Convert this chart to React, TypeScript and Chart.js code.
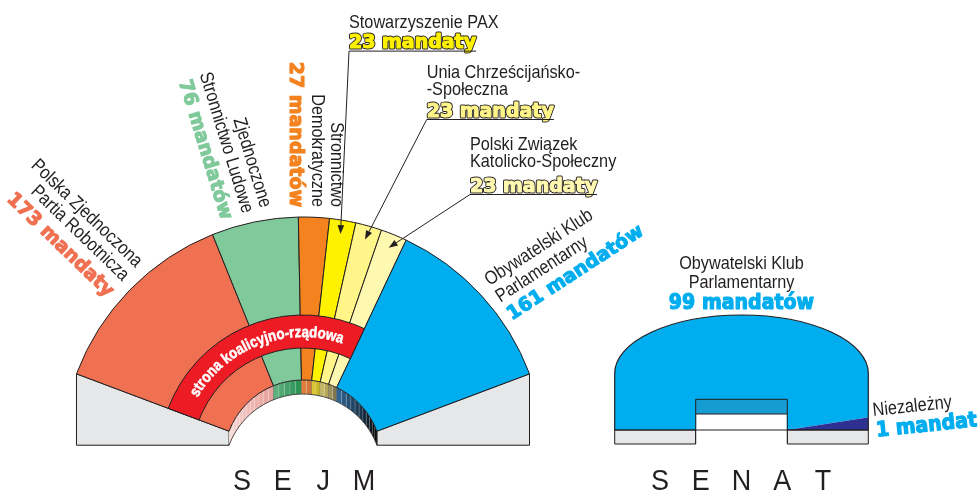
import React, { useEffect, useRef } from 'react';
import { Chart, registerables } from 'chart.js';

Chart.register(...registerables);

// ---------------- data ----------------
const sejmNames: string[][] = [
  ['Polska Zjednoczona', 'Partia Robotnicza'],
  ['Zjednoczone', 'Stronnictwo Ludowe'],
  ['Stronnictwo', 'Demokratyczne'],
  ['Stowarzyszenie PAX'],
  ['Unia Chrześcijańsko-', '-Społeczna'],
  ['Polski Związek', 'Katolicko-Społeczny'],
  ['Obywatelski Klub', 'Parlamentarny'],
];
const sejmSeats = [173, 76, 27, 23, 23, 23, 161];
const sejmSeatText = ['173 mandaty', '76 mandatów', '27 mandatów', '23 mandaty', '23 mandaty', '23 mandaty', '161 mandatów'];
const coalitionParties = 6; // the first six parties form the coalition side
const coalitionText = 'strona koalicyjno-rządowa';

const senatNames: string[][] = [['Obywatelski Klub', 'Parlamentarny'], ['Niezależny']];
const senatSeats = [99, 1];
const senatSeatText = ['99 mandatów', '1 mandat'];

const chamberTitles = ['SEJM', 'SENAT'];

// ---------------- styles ----------------
const W = 978;
const H = 491;
const INK = '#231F20';
const sejmColors = ['#F07052', '#80C99B', '#F4821F', '#FFF200', '#FFF589', '#FFF8B0', '#00AEEF'];
const sejmNumOutline = [false, false, false, true, true, true, false];
const wallLight = ['#F7DCD8', '#5FB07E', '#DE7F3E', '#D9C634', '#C6B862', '#9E915B', '#2F6391'];
const wallDark = ['#E9A29C', '#2C9455', '#D4763A', '#CBB72C', '#B3A656', '#80774F', '#000000'];
const senatColors = ['#00AEEF', '#2E3192'];
const GRAY = '#E6E7E8';
const RED = '#ED1C24';

const REG = '19px "Liberation Sans", Arial, Helvetica, sans-serif';
const REG_SX = 0.855;
const BOLD = 'bold 19px "DejaVu Sans", Verdana, sans-serif';
const BAND_FONT = 'bold 15.5px "Liberation Sans", Arial, sans-serif';
const TITLE_FONT = '30px "Liberation Sans", Arial, sans-serif';

// layout
const SEJM = { cx: 303, cy: 459, R: 242, r: 79, depth: 14, sideDeg: 20.6, bandIn: 111, bandOut: 144, textR: 122, arrowR: 228 };
const SEN = {
  left: 614.7, right: 868.3, shoulder: 373.3, top: 315, base: 430, bottom: 444,
  holeL: 695.7, holeR: 787.3, wallTop: 399.3, wallBot: 414, stretch: 2.5,
};
const TITLE_BASE = 490;
const TITLE_PITCH = 40.7;

const radialLabels: any = {
  0: { x: 135.5, y: 268, rot: 44, align: 'right', dys: [0, 19, 41] },
  1: { x: 260.5, y: 208.6, rot: 73, align: 'right', dys: [0, 19, 41] },
  2: { x: 331, y: 207, rot: 90, align: 'right', dys: [0, 19.2, 41] },
  6: { x: 489.5, y: 286, rot: -33, align: 'left', dys: [0, 20, 41] },
};
const calloutLabels: any = {
  3: { x: 349, lines: [28.3], num: 48.3 },
  4: { x: 426.7, lines: [78.3, 95], num: 116.7 },
  5: { x: 470, lines: [150, 166.7], num: 191.7 },
};

// ---------------- helpers ----------------
function hexToRgb(h: string) {
  const v = parseInt(h.slice(1), 16);
  return [(v >> 16) & 255, (v >> 8) & 255, v & 255];
}
function mix(a: string, b: string, t: number) {
  const A = hexToRgb(a), B = hexToRgb(b);
  const c = A.map((x, i) => Math.round(x + (B[i] - x) * t));
  return `rgb(${c[0]},${c[1]},${c[2]})`;
}

function doughnutOffset(rotDeg: number, circDeg: number, cutout: number) {
  const TAU = Math.PI * 2;
  const circ = (circDeg * Math.PI) / 180;
  if (circ >= TAU) return { x: 0, y: 0 };
  const start = ((rotDeg - 90) * Math.PI) / 180;
  const end = start + circ;
  const norm = (a: number) => ((a % TAU) + TAU) % TAU;
  const inside = (a: number) => norm(a - start) <= circ + 1e-9;
  const sx = Math.cos(start), sy = Math.sin(start), ex = Math.cos(end), ey = Math.sin(end);
  const mx = (ang: number, a: number, b: number) => (inside(ang) ? 1 : Math.max(a, a * cutout, b, b * cutout));
  const mn = (ang: number, a: number, b: number) => (inside(ang) ? -1 : Math.min(a, a * cutout, b, b * cutout));
  const maxX = mx(0, sx, ex), maxY = mx(Math.PI / 2, sy, ey);
  const minX = mn(Math.PI, sx, ex), minY = mn(1.5 * Math.PI, sy, ey);
  return { x: -(maxX + minX) / 2, y: -(maxY + minY) / 2 };
}

function areaPadding(ax: number, ay: number) {
  const p = { left: 0, right: 0, top: 0, bottom: 0 };
  if (2 * ax > W) p.left = 2 * ax - W; else p.right = W - 2 * ax;
  if (2 * ay > H) p.top = 2 * ay - H; else p.bottom = H - 2 * ay;
  return p;
}

function drawBlock(ctx: any, x: number, y: number, rotDeg: number, align: string, lines: any[]) {
  ctx.save();
  ctx.translate(x, y);
  ctx.rotate((rotDeg * Math.PI) / 180);
  ctx.textAlign = align;
  ctx.textBaseline = 'alphabetic';
  for (const ln of lines) {
    ctx.save();
    ctx.translate(ln.dx || 0, ln.dy);
    ctx.lineJoin = 'round';
    if (ln.bold) {
      ctx.font = BOLD;
      ctx.scale(1, ln.sy || 1);
      if (ln.outline) {
        ctx.lineWidth = 3;
        ctx.strokeStyle = INK;
        ctx.strokeText(ln.text, 0, 0);
      }
      ctx.lineWidth = 1.1;
      ctx.strokeStyle = ln.color;
      ctx.strokeText(ln.text, 0, 0);
    } else {
      ctx.font = REG;
      ctx.scale(REG_SX, 1);
    }
    ctx.fillStyle = ln.color;
    ctx.fillText(ln.text, 0, 0);
    ctx.restore();
  }
  ctx.restore();
}

function drawArcText(ctx: any, text: string, cx: number, cy: number, radius: number, centerAngle: number, sx: number) {
  ctx.save();
  ctx.font = BAND_FONT;
  ctx.fillStyle = '#FFFFFF';
  ctx.strokeStyle = '#FFFFFF';
  ctx.lineWidth = 0.5;
  ctx.textAlign = 'center';
  ctx.textBaseline = 'alphabetic';
  const chars = Array.from(text);
  const widths = chars.map((ch) => ctx.measureText(ch).width * sx);
  const total = widths.reduce((a, b) => a + b, 0);
  let ang = centerAngle - total / 2 / radius;
  chars.forEach((ch, i) => {
    const a = ang + widths[i] / 2 / radius;
    ctx.save();
    ctx.translate(cx + radius * Math.cos(a), cy + radius * Math.sin(a));
    ctx.rotate(a + Math.PI / 2);
    ctx.scale(sx, 1);
    ctx.strokeText(ch, 0, 0);
    ctx.fillText(ch, 0, 0);
    ctx.restore();
    ang += widths[i] / radius;
  });
  ctx.restore();
}

function drawArrow(ctx: any, x0: number, y0: number, x1: number, y1: number) {
  const a = Math.atan2(y1 - y0, x1 - x0);
  const L = 9, Wd = 3.3;
  const bx = x1 - L * Math.cos(a), by = y1 - L * Math.sin(a);
  ctx.save();
  ctx.strokeStyle = INK;
  ctx.fillStyle = INK;
  ctx.lineWidth = 1;
  ctx.beginPath();
  ctx.moveTo(x0, y0);
  ctx.lineTo(bx, by);
  ctx.stroke();
  ctx.beginPath();
  ctx.moveTo(x1, y1);
  ctx.lineTo(bx + Wd * Math.sin(a), by - Wd * Math.cos(a));
  ctx.lineTo(bx - Wd * Math.sin(a), by + Wd * Math.cos(a));
  ctx.closePath();
  ctx.fill();
  ctx.restore();
}

function drawTitle(ctx: any, word: string, centerX: number) {
  const letters = Array.from(word);
  ctx.save();
  ctx.font = TITLE_FONT;
  ctx.fillStyle = INK;
  ctx.textAlign = 'center';
  ctx.textBaseline = 'alphabetic';
  letters.forEach((ch, i) => {
    const x = centerX + (i - (letters.length - 1) / 2) * TITLE_PITCH;
    ctx.save();
    ctx.translate(x, TITLE_BASE);
    ctx.scale(0.9, 1);
    ctx.fillText(ch, 0, 0);
    ctx.restore();
  });
  ctx.restore();
}

// ---------------- Sejm plugin ----------------
const sejmDecor = {
  id: 'sejmDecor',
  beforeDatasetsDraw(chart: any) {
    const ctx = chart.ctx;
    const arcs = chart.getDatasetMeta(0).data;
    const first = arcs[0];
    const last = arcs[arcs.length - 1];
    const cx = first.x, cy = first.y, R = first.outerRadius, r = first.innerRadius;
    const d = SEJM.depth;

    // grey plinths on both ends
    [first.startAngle, last.endAngle].forEach((a: number) => {
      const ox = cx + R * Math.cos(a), oy = cy + R * Math.sin(a);
      const ix = cx + r * Math.cos(a), iy = cy + r * Math.sin(a);
      ctx.save();
      ctx.beginPath();
      ctx.moveTo(ox, oy);
      ctx.lineTo(ix, iy);
      ctx.lineTo(ix, iy + d);
      ctx.lineTo(ox, iy + d);
      ctx.closePath();
      ctx.fillStyle = GRAY;
      ctx.fill();
      ctx.lineWidth = 1;
      ctx.strokeStyle = INK;
      ctx.stroke();
      ctx.restore();
    });

    // inner 3D wall, striped per party
    arcs.forEach((el: any, i: number) => {
      const s = el.startAngle, e = el.endAngle;
      const n = Math.max(1, Math.round((e - s) / ((4 * Math.PI) / 180)));
      for (let j = 0; j < n; j++) {
        const a = s + ((e - s) * j) / n;
        const b = s + ((e - s) * (j + 1)) / n;
        ctx.save();
        ctx.beginPath();
        ctx.arc(cx, cy, r, a, b, false);
        ctx.lineTo(cx + r * Math.cos(b), cy + d + r * Math.sin(b));
        ctx.arc(cx, cy + d, r, b, a, true);
        ctx.closePath();
        ctx.fillStyle = mix(wallLight[i], wallDark[i], n === 1 ? 0 : j / (n - 1));
        ctx.fill();
        ctx.lineWidth = 0.5;
        ctx.strokeStyle = 'rgba(255,255,255,0.25)';
        ctx.stroke();
        ctx.restore();
      }
      ctx.save();
      ctx.beginPath();
      ctx.moveTo(cx + r * Math.cos(e), cy + r * Math.sin(e));
      ctx.lineTo(cx + r * Math.cos(e), cy + d + r * Math.sin(e));
      ctx.lineWidth = 0.7;
      ctx.strokeStyle = INK;
      ctx.stroke();
      ctx.restore();
    });
    ctx.save();
    ctx.beginPath();
    ctx.arc(cx, cy + d, r, first.startAngle, last.endAngle, false);
    ctx.lineWidth = 0.8;
    ctx.strokeStyle = INK;
    ctx.stroke();
    ctx.restore();
  },
  afterDatasetsDraw(chart: any) {
    const ctx = chart.ctx;
    const arcs = chart.getDatasetMeta(0).data;
    const first = arcs[0];
    const cx = first.x, cy = first.y;

    // coalition band
    const a0 = arcs[0].startAngle;
    const a1 = arcs[coalitionParties - 1].endAngle;
    ctx.save();
    ctx.beginPath();
    ctx.arc(cx, cy, SEJM.bandOut, a0, a1, false);
    ctx.arc(cx, cy, SEJM.bandIn, a1, a0, true);
    ctx.closePath();
    ctx.fillStyle = RED;
    ctx.fill();
    ctx.lineWidth = 1;
    ctx.strokeStyle = INK;
    ctx.stroke();
    ctx.restore();
    drawArcText(ctx, coalitionText, cx, cy, SEJM.textR, (a0 + a1) / 2 + (1.5 * Math.PI) / 180, 0.86);

    // party labels
    arcs.forEach((el: any, i: number) => {
      const names = sejmNames[i];
      const rl = radialLabels[i];
      if (rl) {
        const lines: any[] = names.map((t, k) => ({ text: t, color: INK, dy: rl.dys[k] }));
        lines.push({ text: sejmSeatText[i], color: sejmColors[i], dy: rl.dys[names.length], bold: true, outline: sejmNumOutline[i] });
        drawBlock(ctx, rl.x, rl.y, rl.rot, rl.align, lines);
      }
      const cl = calloutLabels[i];
      if (cl) {
        const lines: any[] = names.map((t, k) => ({ text: t, color: INK, dy: cl.lines[k] }));
        lines.push({ text: sejmSeatText[i], color: sejmColors[i], dy: cl.num, bold: true, outline: sejmNumOutline[i] });
        drawBlock(ctx, cl.x, 0, 0, 'left', lines);
        ctx.save();
        ctx.font = BOLD;
        const w = ctx.measureText(sejmSeatText[i]).width;
        ctx.restore();
        const uy = cl.num + 2.8;
        ctx.save();
        ctx.beginPath();
        ctx.moveTo(cl.x, uy);
        ctx.lineTo(cl.x + w, uy);
        ctx.lineWidth = 1;
        ctx.strokeStyle = INK;
        ctx.stroke();
        ctx.restore();
        const mid = (el.startAngle + el.endAngle) / 2;
        drawArrow(ctx, cl.x, uy, cx + SEJM.arrowR * Math.cos(mid), cy + SEJM.arrowR * Math.sin(mid));
      }
    });

    drawTitle(ctx, chamberTitles[0], cx);
  },
};

// ---------------- Senat plugin ----------------
function domePath(ctx: any) {
  const cxs = (SEN.left + SEN.right) / 2;
  const a = (SEN.right - SEN.left) / 2;
  const b = SEN.shoulder - SEN.top;
  ctx.beginPath();
  ctx.moveTo(SEN.left, SEN.base);
  ctx.lineTo(SEN.left, SEN.shoulder);
  ctx.ellipse(cxs, SEN.shoulder, a, b, 0, Math.PI, 2 * Math.PI, false);
  ctx.lineTo(SEN.right, SEN.base);
  ctx.closePath();
}

const senatDecor = {
  id: 'senatDecor',
  beforeDatasetsDraw(chart: any) {
    const ctx = chart.ctx;
    const el = chart.getDatasetMeta(0).data[0];
    ctx.save();
    domePath(ctx);
    ctx.clip();
    ctx.translate(el.x, el.y);
    ctx.scale(1, SEN.stretch);
    ctx.translate(-el.x, -el.y);
  },
  afterDatasetsDraw(chart: any) {
    const ctx = chart.ctx;
    ctx.restore();
    const cxs = (SEN.left + SEN.right) / 2;

    ctx.save();
    ctx.lineWidth = 1;
    ctx.strokeStyle = INK;
    // plinths
    [[SEN.left, SEN.holeL], [SEN.holeR, SEN.right]].forEach(([x0, x1]) => {
      ctx.beginPath();
      ctx.rect(x0, SEN.base, x1 - x0, SEN.bottom - SEN.base);
      ctx.fillStyle = GRAY;
      ctx.fill();
      ctx.stroke();
    });
    // hole: wall + opening
    ctx.fillStyle = '#FFFFFF';
    ctx.fillRect(SEN.holeL + 0.5, SEN.wallBot, SEN.holeR - SEN.holeL - 1, SEN.bottom - SEN.wallBot + 2);
    ctx.beginPath();
    ctx.rect(SEN.holeL, SEN.wallTop, SEN.holeR - SEN.holeL, SEN.wallBot - SEN.wallTop);
    ctx.fillStyle = '#179CD2';
    ctx.fill();
    ctx.stroke();
    ctx.beginPath();
    ctx.moveTo(SEN.holeL, SEN.wallBot);
    ctx.lineTo(SEN.holeL, SEN.bottom);
    ctx.moveTo(SEN.holeR, SEN.wallBot);
    ctx.lineTo(SEN.holeR, SEN.bottom);
    ctx.stroke();
    // outline
    domePath(ctx);
    ctx.lineWidth = 1.2;
    ctx.stroke();
    ctx.restore();

    // labels
    drawBlock(ctx, cxs, 269, 0, 'center', [
      { text: senatNames[0][0], color: INK, dy: 0 },
      { text: senatNames[0][1], color: INK, dy: 18.7 },
      { text: senatSeatText[0], color: senatColors[0], dy: 39.7, bold: true, sy: 1.1 },
    ]);
    drawBlock(ctx, 873.3, 416, -6, 'left', [
      { text: senatNames[1][0], color: INK, dy: 0 },
      { text: senatSeatText[1], color: senatColors[0], dy: 20.9, dx: 1.2, bold: true, sy: 1.1 },
    ]);

    drawTitle(ctx, chamberTitles[1], cxs);
  },
};

// ---------------- configs ----------------
function sejmConfig(): any {
  const rotation = SEJM.sideDeg - 90;
  const circumference = 180 - 2 * SEJM.sideDeg;
  const cut = SEJM.r / SEJM.R;
  const off = doughnutOffset(rotation, circumference, cut);
  const padding = areaPadding(SEJM.cx - off.x * SEJM.R, SEJM.cy - off.y * SEJM.R);
  return {
    type: 'doughnut',
    data: {
      labels: sejmNames.map((n) => n.join(' ')),
      datasets: [
        {
          data: sejmSeats,
          backgroundColor: sejmColors,
          borderColor: INK,
          borderWidth: 1,
          hoverOffset: 0,
        },
      ],
    },
    options: {
      responsive: false,
      animation: false,
      devicePixelRatio: 1,
      events: [],
      rotation,
      circumference,
      cutout: `${cut * 100}%`,
      radius: SEJM.R,
      layout: { padding },
      plugins: { legend: { display: false }, tooltip: { enabled: false }, title: { display: false } },
    },
    plugins: [sejmDecor],
  };
}

function senatConfig(): any {
  const padding = areaPadding(SEN.holeR, SEN.base);
  return {
    type: 'doughnut',
    data: {
      labels: senatNames.map((n) => n.join(' ')),
      datasets: [
        {
          data: senatSeats,
          backgroundColor: senatColors,
          borderWidth: 0,
          hoverOffset: 0,
        },
      ],
    },
    options: {
      responsive: false,
      animation: false,
      devicePixelRatio: 1,
      events: [],
      rotation: 90,
      circumference: 360,
      cutout: '0%',
      radius: 200,
      layout: { padding },
      plugins: { legend: { display: false }, tooltip: { enabled: false }, title: { display: false } },
    },
    plugins: [senatDecor],
  };
}

export default function App() {
  const sejmRef = useRef<HTMLCanvasElement>(null);
  const senatRef = useRef<HTMLCanvasElement>(null);
  useEffect(() => {
    const c1 = new Chart(sejmRef.current as HTMLCanvasElement, sejmConfig());
    const c2 = new Chart(senatRef.current as HTMLCanvasElement, senatConfig());
    return () => {
      c1.destroy();
      c2.destroy();
    };
  }, []);
  const cs: any = { position: 'absolute', left: 0, top: 0, width: W, height: H };
  return (
    <div style={{ position: 'fixed', left: 0, top: 0, width: W, height: H, overflow: 'hidden', background: '#FFFFFF' }}>
      <canvas ref={sejmRef} width={W} height={H} style={cs} />
      <canvas ref={senatRef} width={W} height={H} style={cs} />
    </div>
  );
}
